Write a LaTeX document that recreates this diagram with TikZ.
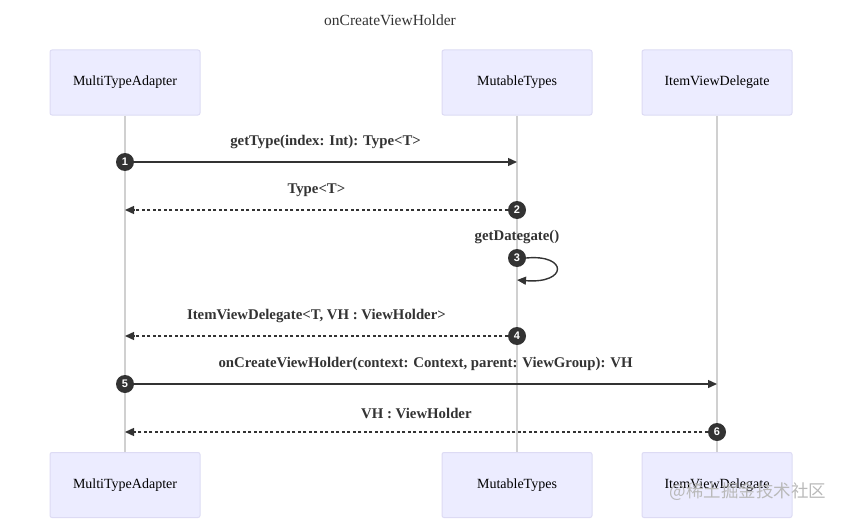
\documentclass[tikz,border=0pt]{standalone}
\usepackage{fontspec}
\setmainfont{Liberation Serif}
\newfontfamily\numfont{Liberation Sans}
\newfontfamily\cjk{Noto Sans CJK SC}
\usetikzlibrary{arrows.meta}

\definecolor{actorfill}{HTML}{ECECFF}
\definecolor{actorline}{HTML}{DDDBF4}
\definecolor{lifegray}{HTML}{D0D0D0}
\definecolor{msggray}{HTML}{333333}

\tikzset{
  actor/.style={draw=actorline, fill=actorfill, line width=1pt, rounded corners=2pt,
    minimum width=150pt, minimum height=65pt, inner sep=0pt,
    font=\fontsize{14}{16}\selectfont},
  lifeline/.style={draw=lifegray, line width=1.3pt},
  msg/.style={draw=msggray, line width=1.4pt, -{Triangle[length=9pt,width=8pt]}},
  reply/.style={msg, dash pattern=on 3pt off 2.5pt},
  seqnum/.style={circle, fill=msggray, text=white, minimum size=18pt, inner sep=0pt,
    font=\numfont\bfseries\fontsize{11}{11}\selectfont},
  msglabel/.style={font=\bfseries\fontsize{14.8}{17}\selectfont, text=msggray, above=9pt}
}

\begin{document}
\begin{tikzpicture}[x=1pt,y=-1pt]
\useasboundingbox (0,0) rectangle (843,519);
\node[font=\fontsize{15.5}{18}\selectfont, text=msggray] (title) at (390,20) {onCreateViewHolder};

% actors, top and bottom
\node[actor] (mta) at (125,82.5) {MultiTypeAdapter};
\node[actor] (mt) at (517,82.5) {MutableTypes};
\node[actor] (ivd) at (717,82.5) {ItemViewDelegate};
\node[actor] (mtab) at (125,485) {MultiTypeAdapter};
\node[actor] (mtb) at (517,485) {MutableTypes};
\node[actor] (ivdb) at (717,485) {ItemViewDelegate};

% lifelines
\foreach \a in {mta,mt,ivd}
  \draw[lifeline] (\a.south) -- (\a b.north);

% 1
\node[seqnum] (s1) at (mta |- 0,162) {1};
\coordinate (r1) at (mt |- s1);
\draw[msg] (s1) -- (r1) node[msglabel, midway] {getType(index: Int): Type<T>};
% 2
\node[seqnum] (s2) at (mt |- 0,210) {2};
\coordinate (r2) at (mta |- s2);
\draw[reply] (s2) -- (r2) node[msglabel, midway] {Type<T>};
% 3
\node[seqnum] (s3) at (mt |- 0,258) {3};
\coordinate (r3) at (mt |- 0,280);
\node[font=\bfseries\fontsize{14.8}{17}\selectfont, text=msggray] (l3) at (517,237) {getDategate()};
\draw[msg] (s3.east) .. controls (568,254) and (568,284) .. (r3);
% 4
\node[seqnum] (s4) at (mt |- 0,336) {4};
\coordinate (r4) at (mta |- s4);
\draw[reply] (s4) -- (r4) node[msglabel, midway] {ItemViewDelegate<T, VH : ViewHolder>};
% 5
\node[seqnum] (s5) at (mta |- 0,384) {5};
\coordinate (r5) at (ivd |- s5);
\draw[msg] (s5) -- (r5) node[msglabel, midway] {onCreateViewHolder(context: Context, parent: ViewGroup): VH};
% 6
\node[seqnum] (s6) at (ivd |- 0,432) {6};
\coordinate (r6) at (mta |- s6);
\draw[reply] (s6) -- (r6) node[msglabel, midway] {VH : ViewHolder};

\node[font=\cjk\fontsize{17.5}{18}\selectfont, text=gray!55, anchor=west] (wm) at (666,492) {@稀土掘金技术社区};
\end{tikzpicture}
\end{document}
